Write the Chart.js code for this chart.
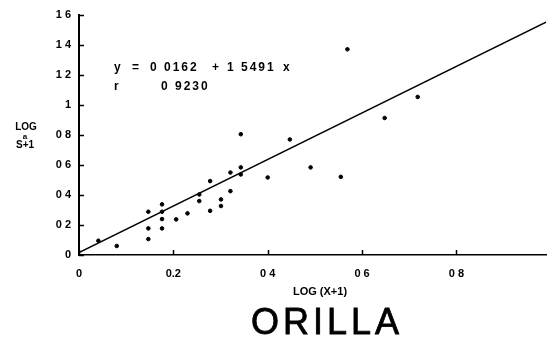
<!DOCTYPE html>
<html>
<head>
<meta charset="utf-8">
<script src="https://cdn.jsdelivr.net/npm/chart.js@4/dist/chart.umd.min.js"></script>
<style>
  html, body { margin: 0; padding: 0; background: #fff; }
  #wrap { width: 549px; height: 347px; }
</style>
</head>
<body>
<div id="wrap"><canvas id="c" width="549" height="347"></canvas></div>
<script>
// Observations: log(X+1) against log(S+1)
const logX = [0.041, 0.080, 0.147, 0.147, 0.147, 0.176, 0.176, 0.176, 0.176, 0.206,
              0.230, 0.255, 0.255, 0.278, 0.278, 0.301, 0.301, 0.321, 0.321, 0.343,
              0.343, 0.343, 0.400, 0.447, 0.491, 0.555, 0.569, 0.648, 0.718];
const logY = [0.095, 0.060, 0.288, 0.177, 0.106, 0.337, 0.288, 0.239, 0.177, 0.237,
              0.277, 0.403, 0.359, 0.492, 0.294, 0.370, 0.326, 0.549, 0.425, 0.804,
              0.583, 0.536, 0.516, 0.769, 0.583, 0.520, 1.369, 0.912, 1.052];

// Least-squares fit
const fitIntercept = 0.0162;
const fitSlope = 1.5491;
const fitR = 0.9230;

// Axes
const xMin = 0, xMax = 0.99;
const yMin = 0, yMax = 1.6;
const xTickValues = [0, 0.2, 0.4, 0.6, 0.8];
const xTickLabels = ['0', '0.2', '0 4', '0 6', '0 8'];
const yTickValues = [0, 0.2, 0.4, 0.6, 0.8, 1.0, 1.2, 1.4, 1.6];
const yTickLabels = ['0', '0 2', '0 4', '0 6', '0 8', '1', '1 2', '1 4', '1 6'];

const points = logX.map((x, i) => ({ x: x, y: logY[i] }));
const fitLine = [xMin, xMax].map(x => ({ x: x, y: fitIntercept + fitSlope * x }));

const FAMILY = '"Liberation Sans", Arial, sans-serif';

// Inward tick marks, axis captions, fit equation and the site name
const annotations = {
  id: 'annotations',
  afterDraw(chart) {
    const ctx = chart.ctx;
    const xs = chart.scales.x, ys = chart.scales.y;
    const area = chart.chartArea;
    ctx.save();
    ctx.strokeStyle = '#000';
    ctx.lineWidth = 1.5;
    ctx.beginPath();
    yTickValues.forEach(v => {
      const py = Math.round(ys.getPixelForValue(v)) + 0.5;
      ctx.moveTo(area.left, py);
      ctx.lineTo(area.left + 5, py);
    });
    xTickValues.forEach(v => {
      const px = Math.round(xs.getPixelForValue(v)) + 0.5;
      ctx.moveTo(px, area.bottom);
      ctx.lineTo(px, area.bottom - 5);
    });
    ctx.stroke();

    ctx.fillStyle = '#000';
    ctx.textBaseline = 'middle';

    // y-axis caption
    ctx.textAlign = 'center';
    ctx.font = 'bold 10px ' + FAMILY;
    ctx.fillText('LOG', 26, 127);
    ctx.font = 'bold 8px ' + FAMILY;
    ctx.fillText('a', 25, 137);
    ctx.font = 'bold 10px ' + FAMILY;
    ctx.fillText('S+1', 25, 145);

    // x-axis caption
    ctx.font = 'bold 11px ' + FAMILY;
    ctx.fillText('LOG (X+1)', 320, 292);

    // fit equation
    const fmt = v => v.toFixed(4).replace('.', ' ');
    ctx.textAlign = 'left';
    ctx.font = 'bold 12px ' + FAMILY;
    ctx.letterSpacing = '2px';
    ctx.fillText('y', 114, 68);
    ctx.fillText('=', 132, 68);
    ctx.fillText(fmt(fitIntercept), 150, 68);
    ctx.fillText('+', 212, 68);
    ctx.fillText(fmt(fitSlope), 227, 68);
    ctx.fillText('x', 283, 68);
    ctx.fillText('r', 114, 87);
    ctx.fillText(fmt(fitR), 161, 87);

    // site name
    ctx.textAlign = 'center';
    ctx.font = '36px ' + FAMILY;
    ctx.letterSpacing = '4px';
    ctx.lineWidth = 0.8;
    ctx.fillText('ORILLA', 327, 324);
    ctx.strokeText('ORILLA', 327, 324);
    ctx.restore();
  }
};

new Chart(document.getElementById('c'), {
  type: 'scatter',
  data: {
    datasets: [
      {
        data: points,
        backgroundColor: '#000',
        borderColor: '#000',
        pointRadius: 1.8,
        pointHoverRadius: 1.8,
        order: 1
      },
      {
        type: 'line',
        data: fitLine,
        borderColor: '#000',
        borderWidth: 1.4,
        pointRadius: 0,
        fill: false,
        tension: 0,
        order: 2
      }
    ]
  },
  options: {
    responsive: false,
    devicePixelRatio: 1,
    animation: false,
    events: [],
    layout: { padding: { top: 13, right: 3, left: 0, bottom: 0 } },
    plugins: {
      legend: { display: false },
      tooltip: { enabled: false },
      title: { display: false }
    },
    scales: {
      x: {
        type: 'linear',
        min: xMin,
        max: xMax,
        afterFit(s) { s.height = 92; },
        afterBuildTicks(s) { s.ticks = xTickValues.map(v => ({ value: v })); },
        grid: { display: false, drawTicks: false },
        border: { display: true, color: '#000', width: 1.6 },
        ticks: {
          padding: 12,
          autoSkip: false,
          maxRotation: 0,
          color: '#000',
          font: { family: FAMILY, size: 11, weight: 'bold' },
          callback: (v, i) => xTickLabels[i]
        }
      },
      y: {
        type: 'linear',
        min: yMin,
        max: yMax,
        afterFit(s) { s.width = 79; },
        afterBuildTicks(s) { s.ticks = yTickValues.map(v => ({ value: v })); },
        grid: { display: false, drawTicks: false },
        border: { display: true, color: '#000', width: 2 },
        ticks: {
          padding: 8,
          autoSkip: false,
          color: '#000',
          font: { family: FAMILY, size: 11, weight: 'bold' },
          callback: (v, i) => yTickLabels[i]
        }
      }
    }
  },
  plugins: [annotations]
});
</script>
</body>
</html>
